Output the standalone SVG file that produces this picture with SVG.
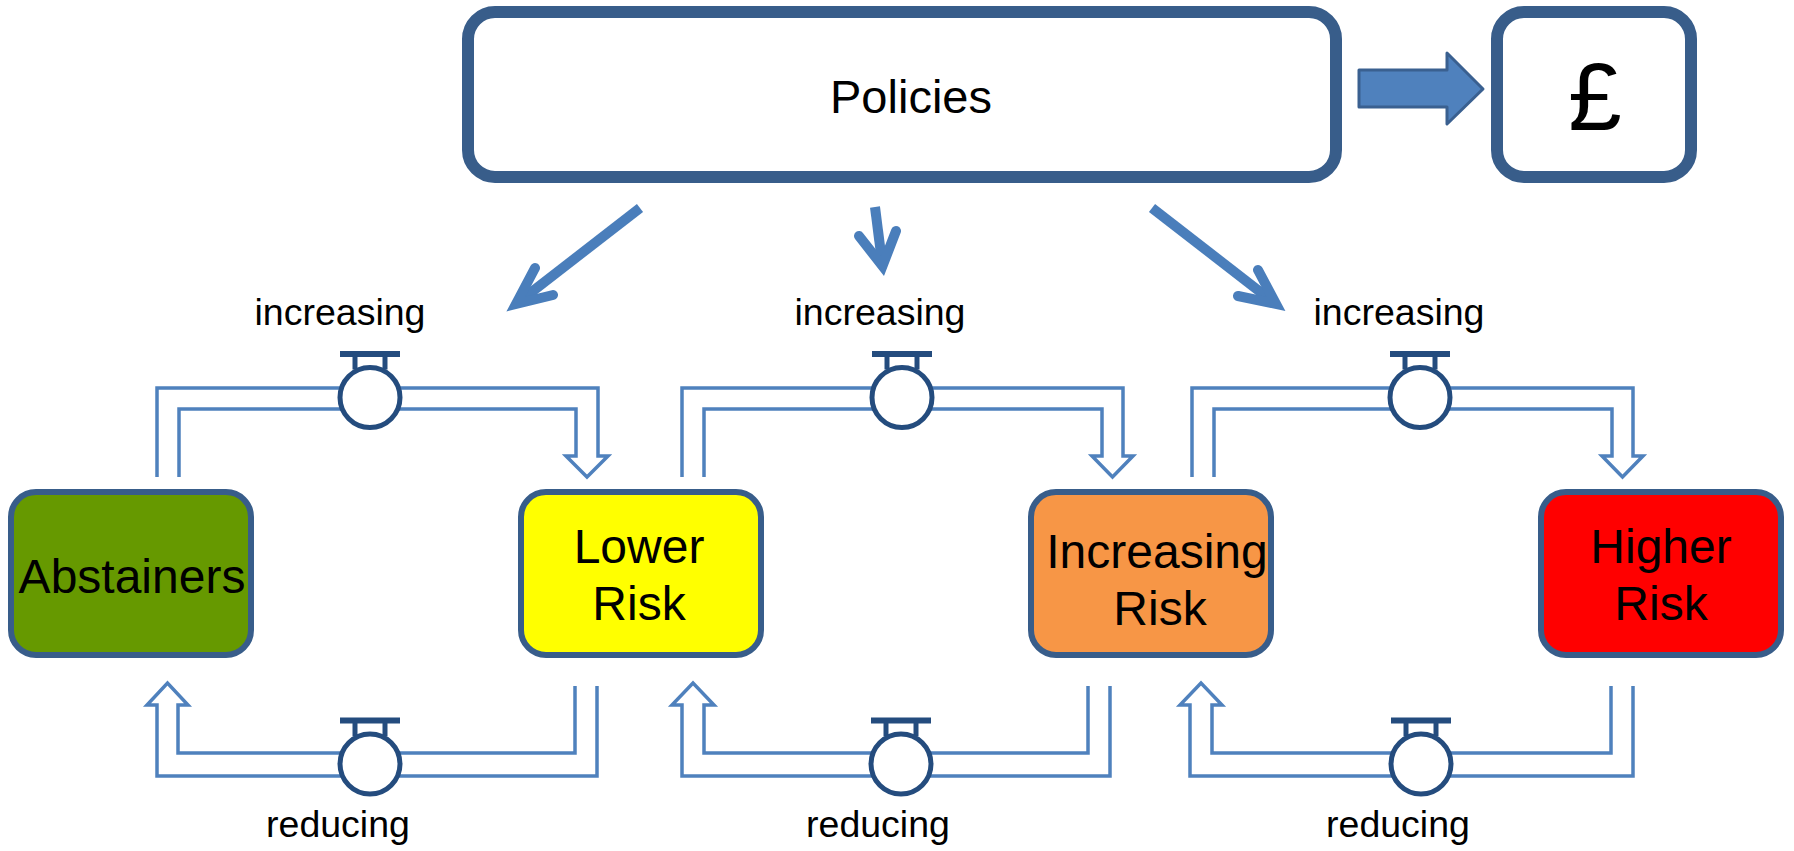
<svg xmlns="http://www.w3.org/2000/svg" xmlns:xlink="http://www.w3.org/1999/xlink" width="1794" height="851" viewBox="0 0 1794 851">
<style>
.box{stroke:#385D8A;stroke-width:6}
.big{fill:#fff;stroke:#385D8A;stroke-width:12}
.t{font-family:"Liberation Sans",Arial,sans-serif;fill:#000;text-anchor:middle}
.node{font-size:48px}
.lbl{font-size:37.5px}
.pipe{fill:none;stroke:#4F81BD;stroke-width:3.5;stroke-linejoin:miter}
.shaft{fill:none;stroke:#4A7EBB;stroke-width:10;stroke-linecap:butt}
.head{fill:none;stroke:#4A7EBB;stroke-width:10;stroke-linecap:round;stroke-linejoin:miter;stroke-miterlimit:10}
.vs{stroke:#244C7E;fill:none}
</style>
<defs>
<g id="valve">
<line class="vs" x1="-30" y1="-43.5" x2="30" y2="-43.5" stroke-width="6"/>
<line class="vs" x1="-15" y1="-43.5" x2="-15" y2="-28" stroke-width="5"/>
<line class="vs" x1="15" y1="-43.5" x2="15" y2="-28" stroke-width="5"/>
<circle r="30" fill="#fff" stroke="#244C7E" stroke-width="5"/>
</g>
</defs>

<g id="policies">
<rect class="big" x="468" y="12" width="868" height="165" rx="27"/>
<text class="t" x="911" y="113" font-size="47">Policies</text>
</g>
<g id="money">
<rect class="big" x="1497" y="12" width="194" height="165" rx="27"/>
<text class="t" x="1595" y="130" font-size="96">£</text>
</g>
<g id="abstainers">
<rect class="box" x="11" y="492" width="240" height="163" rx="25" fill="#669900"/>
<text class="t node" x="132" y="593">Abstainers</text>
</g>
<g id="lower-risk">
<rect class="box" x="521" y="492" width="240" height="163" rx="25" fill="#FFFF00"/>
<text class="t node" x="639" y="563">Lower</text>
<text class="t node" x="639" y="620">Risk</text>
</g>
<g id="increasing-risk">
<rect class="box" x="1031" y="492" width="240" height="163" rx="25" fill="#F79646"/>
<text class="t node" x="1157" y="568">Increasing</text>
<text class="t node" x="1160" y="625">Risk</text>
</g>
<g id="higher-risk">
<rect class="box" x="1541" y="492" width="240" height="163" rx="25" fill="#FF0000"/>
<text class="t node" x="1661" y="563">Higher</text>
<text class="t node" x="1661" y="620">Risk</text>
</g>

<g id="connectors">
<path d="M1359,70 H1447 V53 L1483,89 L1447,124 V107 H1359 Z" fill="#4F81BD" stroke="#3A6090" stroke-width="3" stroke-linejoin="round"/>
<line class="shaft" x1="640" y1="208" x2="520" y2="301"/>
<path class="head" d="M535,268 L516,304 L553,295"/>
<line class="shaft" x1="875" y1="207" x2="882" y2="262"/>
<path class="head" d="M859,236 L882.5,266 L896,231"/>
<line class="shaft" x1="1152" y1="208" x2="1272" y2="301"/>
<path class="head" d="M1258,270 L1276,304 L1238,296"/>

<path class="pipe" d="M157,477 V388 H598 V456 H608 L587,477 L566,456 H576 V409 H179 V477"/>
<path class="pipe" d="M682,477 V388 H1123 V456 H1133 L1112.5,477 L1092,456 H1102 V409 H704 V477"/>
<path class="pipe" d="M1192,477 V388 H1633 V456 H1643 L1622.5,477 L1602,456 H1612 V409 H1214 V477"/>
<path class="pipe" d="M575,686 V753 H178 V705 H188 L167.5,683 L147,705 H157 V776 H597 V686"/>
<path class="pipe" d="M1088,686 V753 H704 V705 H714 L693,683 L672,705 H682 V776 H1110 V686"/>
<path class="pipe" d="M1611,686 V753 H1212 V705 H1222 L1201,683 L1180,705 H1190 V776 H1633 V686"/>

<use xlink:href="#valve" x="370" y="397.5"/>
<use xlink:href="#valve" x="902" y="397.5"/>
<use xlink:href="#valve" x="1420" y="397.5"/>
<use xlink:href="#valve" x="370" y="764"/>
<use xlink:href="#valve" x="901" y="764"/>
<use xlink:href="#valve" x="1421" y="764"/>

<text class="t lbl" x="340" y="325">increasing</text>
<text class="t lbl" x="880" y="325">increasing</text>
<text class="t lbl" x="1399" y="325">increasing</text>
<text class="t lbl" x="338" y="837">reducing</text>
<text class="t lbl" x="878" y="837">reducing</text>
<text class="t lbl" x="1398" y="837">reducing</text>
</g>
</svg>
